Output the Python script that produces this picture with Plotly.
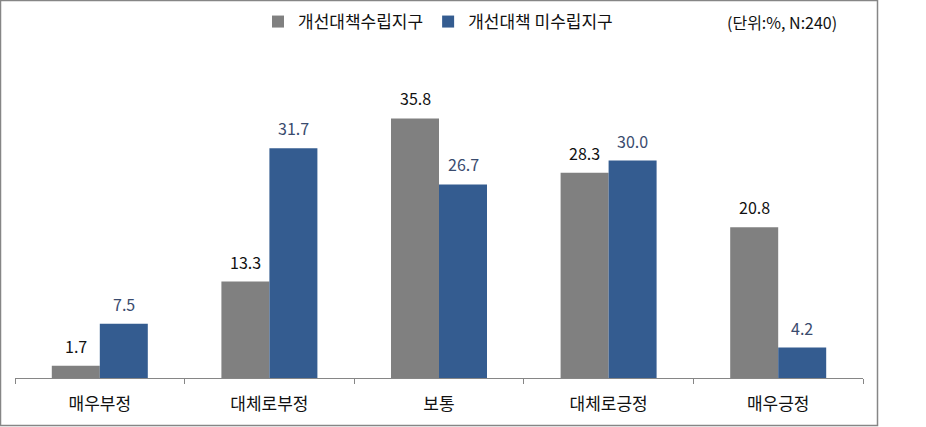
import plotly.graph_objects as go

categories = ["매우부정", "대체로부정", "보통", "대체로긍정", "매우긍정"]
series_a_name = "개선대책수립지구"
series_b_name = "개선대책 미수립지구"
series_a = [1.7, 13.3, 35.8, 28.3, 20.8]
series_b = [7.5, 31.7, 26.7, 30.0, 4.2]
note = "(단위:%, N:240)"

FONT = "Noto Sans CJK KR, Malgun Gothic, sans-serif"
W, H = 926, 427
ML, MR, MT, MB = 15, 63, 88, 49
pw = W - ML - MR
ph = H - MT - MB

fig = go.Figure()
fig.add_trace(go.Bar(
    x=categories, y=series_a, name=series_a_name,
    marker=dict(color="#808080", line=dict(width=0)),
))
fig.add_trace(go.Bar(
    x=categories, y=series_b, name=series_b_name,
    marker=dict(color="#345c90", line=dict(width=0)),
))

def px_x(p):
    return (p - ML) / pw

def px_y(p):
    return (H - MB - p) / ph

annotations = []
for c, v in zip(categories, series_a):
    annotations.append(dict(x=c, y=v, xref="x", yref="y", text=f"{v:.1f}", showarrow=False,
                            xanchor="center", yanchor="bottom", xshift=-24, yshift=6,
                            font=dict(size=16, family=FONT, color="#111111")))
for c, v in zip(categories, series_b):
    annotations.append(dict(x=c, y=v, xref="x", yref="y", text=f"{v:.1f}", showarrow=False,
                            xanchor="center", yanchor="bottom", xshift=24, yshift=6,
                            font=dict(size=16, family=FONT, color="#3a4b6e")))
annotations.append(dict(text=note, xref="paper", yref="paper", x=px_x(839), y=px_y(22),
                        xanchor="right", yanchor="middle", showarrow=False,
                        font=dict(size=16, family=FONT, color="#111111")))

fig.update_layout(
    width=W, height=H,
    margin=dict(l=ML, r=MR, t=MT, b=MB, autoexpand=False),
    paper_bgcolor="white", plot_bgcolor="white",
    barmode="group", bargap=0.434, bargroupgap=0,
    font=dict(family=FONT, size=16, color="#111111"),
    legend=dict(orientation="h", x=px_x(258), y=px_y(22), xanchor="left", yanchor="middle",
                font=dict(size=17, family=FONT, color="#111111"),
                itemwidth=30, tracegroupgap=0, bgcolor="rgba(0,0,0,0)"),
    xaxis=dict(showline=True, linecolor="#868686", linewidth=1,
               ticks="outside", tickson="boundaries", ticklen=5, tickcolor="#868686",
               tickfont=dict(size=17, family=FONT, color="#111111"),
               ticklabelstandoff=11, showgrid=False),
    yaxis=dict(range=[0, 40], visible=False, showgrid=False, zeroline=False),
    shapes=[dict(type="rect", xref="paper", yref="paper",
                 x0=px_x(0.5), x1=px_x(877.5), y0=px_y(425.5), y1=px_y(0.5),
                 line=dict(color="#868686", width=1.5), fillcolor="rgba(0,0,0,0)", layer="below")],
    annotations=annotations,
)

fig.write_html("out.html")
